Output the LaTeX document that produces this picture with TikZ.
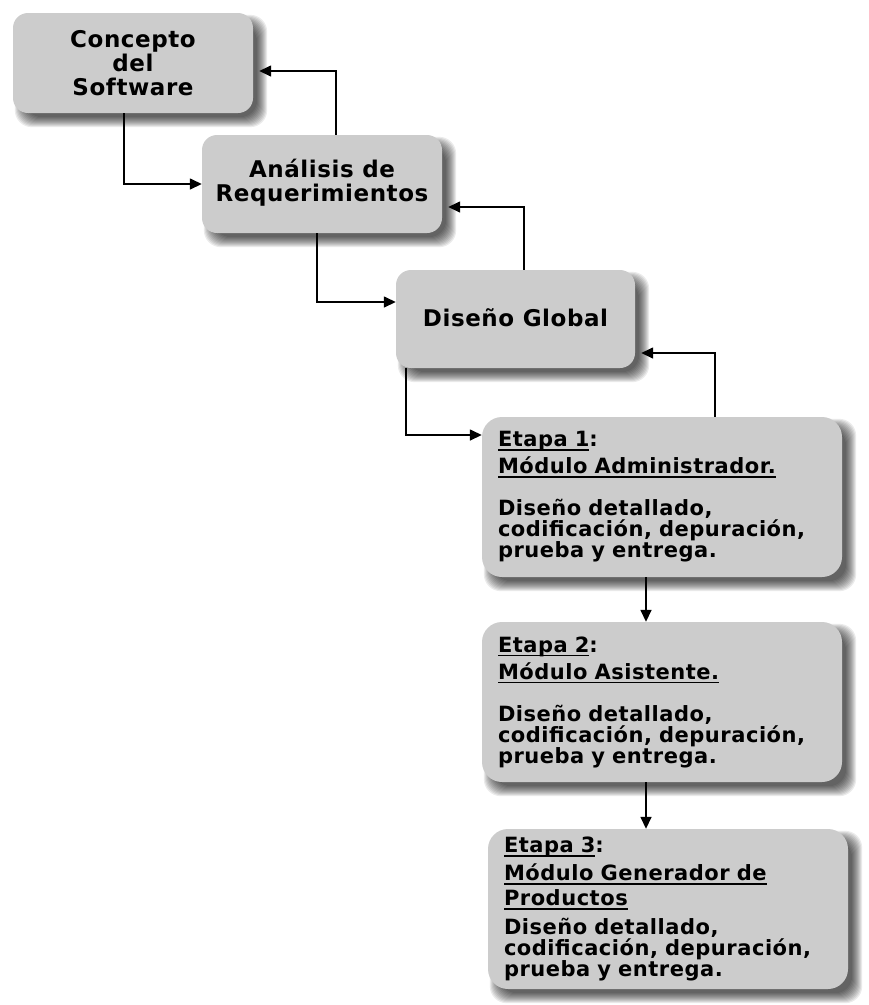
\documentclass[tikz,border=0pt]{standalone}
\usepackage{fontspec}
\setmainfont{DejaVu Sans}[LetterSpace=2.5]
\usetikzlibrary{arrows.meta}
\pgfdeclarelayer{shadowlayer}
\pgfsetlayers{shadowlayer,main}
\definecolor{boxgray}{RGB}{204,204,204}

% keep baselines evenly spaced, whatever the line contents
\newcommand{\tightlines}{\lineskiplimit=-20pt\relax}

% underlined heading text, rule a few points below the baseline
\newsavebox{\headbox}
\newcommand{\headline}[1]{%
  \leavevmode\sbox{\headbox}{#1}%
  \rlap{\rule[-4pt]{\wd\headbox}{1.5pt}}\usebox{\headbox}}

% soft shadow below and to the right of a node
\newcommand{\castshadow}[1]{%
  \foreach \k in {-4,...,6} {
    \pgfmathsetmacro\lo{8-\k}
    \pgfmathsetmacro\hi{8+\k}
    \fill[black, opacity=0.08, rounded corners=17pt]
      ([xshift=\lo pt, yshift=-\hi pt]#1.south west) rectangle
      ([xshift=\hi pt, yshift=-\lo pt]#1.north east);
  }}

\begin{document}
\begin{tikzpicture}[x=1pt, y=-1pt,
  phase/.style={fill=boxgray, rounded corners=15pt, inner sep=0pt, align=center,
    font=\bfseries\fontsize{23pt}{24pt}\selectfont\tightlines},
  stage/.style={fill=boxgray, rounded corners=20pt, inner xsep=16pt, inner ysep=0pt,
    text width=328pt, minimum height=160pt, align=left,
    font=\bfseries\fontsize{21pt}{21pt}\selectfont\tightlines},
  link/.style={line width=1.5pt, -{Triangle[length=12pt,width=11pt]}},
  back/.style={link, shorten >=6pt}]

\useasboundingbox (0,0) rectangle (869,1005);

% phases of the life cycle
\node[phase, minimum width=240pt, minimum height=100pt] (n1) at (133,63)
  {Concepto\\del\\Software};
\node[phase, minimum width=240pt, minimum height=98pt] (n2) at (322,184)
  {\raisebox{4pt}{\begin{tabular}{@{}c@{}}Análisis de\\Requerimientos\end{tabular}}};
\node[phase, minimum width=239pt, minimum height=98pt] (n3) at (515.5,319)
  {\raisebox{3pt}{Diseño Global}};

% development stages
\node[stage] (n4) at (662,497)
  {\headline{Etapa 1}:\\[6pt]
   \headline{Módulo Administrador.}\\[21pt]
   Diseño detallado,\\ codificación, depuración,\\ prueba y entrega.};
\node[stage] (n5) at (662,702)
  {\headline{Etapa 2}:\\[6pt]
   \headline{Módulo Asistente.}\\[21pt]
   Diseño detallado,\\ codificación, depuración,\\ prueba y entrega.};
\node[stage] (n6) at (668,909)
  {\headline{Etapa 3}:\\[7pt]
   \headline{Módulo Generador de}\\[4pt]
   \headline{Productos}\\[8pt]
   Diseño detallado,\\ codificación, depuración,\\ prueba y entrega.};

% forward and feedback connectors
\draw[link] ([xshift=-9pt]n1.south) |- (n2.west);
\draw[back] ([xshift=14pt]n2.north) |- ([yshift=-8pt]n1.east);
\draw[link] ([xshift=-5pt]n2.south) |- ([yshift=17pt]n3.west);
\draw[back] ([xshift=8.5pt]n3.north) |- ([yshift=-23pt]n2.east);
\draw[link] ([xshift=10pt]n3.south west) |- ([yshift=62pt]n4.west);
\draw[back] ([xshift=53pt]n4.north) |- ([yshift=-34pt]n3.east);
\draw[link] ([xshift=-16pt]n4.south) -- ([xshift=-16pt]n5.north);
\draw[link] ([xshift=-16pt]n5.south) -- ([xshift=-22pt]n6.north);

\begin{pgfonlayer}{shadowlayer}
  \fill[white] (0,0) rectangle (869,1005);
  \castshadow{n1}
  \castshadow{n2}
  \castshadow{n3}
  \castshadow{n4}
  \castshadow{n5}
  \castshadow{n6}
\end{pgfonlayer}
\end{tikzpicture}
\end{document}
